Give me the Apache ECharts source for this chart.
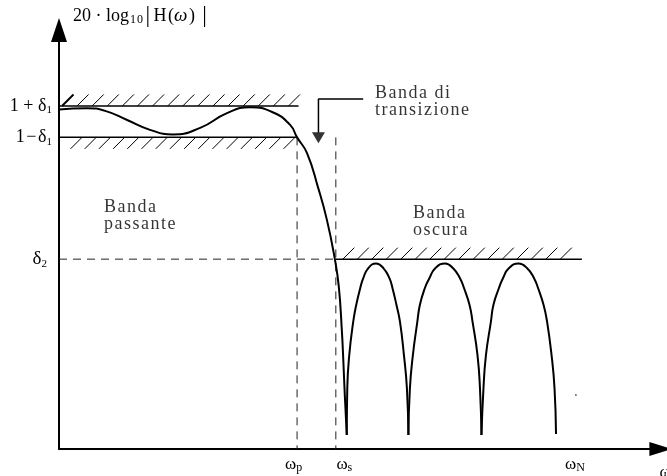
<!DOCTYPE html>
<html>
<head>
<meta charset="utf-8">
<script src="https://cdn.jsdelivr.net/npm/echarts@6/dist/echarts.min.js"></script>
<style>
  html, body { margin: 0; padding: 0; background: #fff; }
  #chart { width: 667px; height: 476px; }
</style>
</head>
<body>
<div id="chart"></div>
<script>
// Tolerance levels of the low-pass specification (normalized magnitude)
const delta1 = 0.048;
const delta2 = 0.58;

// Band edges on the normalized frequency axis
const omegaP = 0.479;
const omegaS = 0.557;
const omegaN = 1.038;

// Passband ripple followed by the transition band down to the first zero
const passbandCurve = [
  [0.000, 1.037], [0.028, 1.040], [0.056, 1.041], [0.093, 1.033], [0.137, 1.005],
  [0.183, 0.975], [0.229, 0.961], [0.284, 0.981], [0.338, 1.026], [0.384, 1.044],
  [0.431, 1.028], [0.465, 0.990], [0.479, 0.952], [0.499, 0.904], [0.521, 0.800],
  [0.539, 0.700], [0.555, 0.580], [0.563, 0.495], [0.569, 0.364], [0.572, 0.272],
  [0.575, 0.165], [0.579, 0.043]
];

// Stopband lobes between consecutive zeros
const lobe1 = [
  [0.579, 0.043], [0.580, 0.185], [0.584, 0.287], [0.592, 0.389], [0.598, 0.440],
  [0.606, 0.491], [0.612, 0.521], [0.622, 0.552], [0.638, 0.567], [0.653, 0.552],
  [0.665, 0.521], [0.671, 0.491], [0.679, 0.440], [0.686, 0.389], [0.694, 0.287],
  [0.700, 0.185], [0.703, 0.043]
];
const lobe2 = [
  [0.703, 0.043], [0.706, 0.185], [0.712, 0.287], [0.721, 0.389], [0.726, 0.440],
  [0.736, 0.491], [0.745, 0.521], [0.757, 0.552], [0.777, 0.567], [0.793, 0.552],
  [0.807, 0.521], [0.815, 0.491], [0.826, 0.440], [0.832, 0.389], [0.842, 0.287],
  [0.847, 0.185], [0.850, 0.043]
];
const lobe3 = [
  [0.850, 0.043], [0.854, 0.185], [0.859, 0.287], [0.869, 0.389], [0.874, 0.440],
  [0.885, 0.491], [0.893, 0.521], [0.905, 0.552], [0.925, 0.567], [0.942, 0.552],
  [0.956, 0.521], [0.964, 0.491], [0.975, 0.440], [0.982, 0.389], [0.991, 0.287],
  [0.997, 0.185], [1.000, 0.046]
];

// Forbidden-region limits: [from, to, level]
const specLimits = [
  [0, 0.482, 1 + delta1],
  [0, omegaP, 1 - delta1],
  [omegaS, 1.052, delta2]
];

// Dashed guides
const guideDelta2 = [[0, delta2], [omegaS, delta2]];
const guideOmegaP = [[omegaP, 1 - delta1], [omegaP, 0]];
const guideOmegaS = [[omegaS, 1 - delta1], [omegaS, 0]];

// Callout pointing at the transition band
const calloutPath = [[0.612, 1.069], [0.522, 1.069], [0.522, 0.966]];
const calloutTip = [[0.522, 0.951]];

// Band captions anchored in data space
const captions = [
  { name: 'Banda\npassante', value: [0.0905, 0.713] },
  { name: 'Banda\noscura', value: [0.712, 0.694] },
  { name: 'Banda di\ntransizione', value: [0.636, 1.062] }
];
const strayDot = [[1.040, 0.165]];

// ---- styling ----
const serif = '"Liberation Serif", "Times New Roman", serif';
const ink = '#000';
const HAIR = '\u200A';
const THIN = '\u2009';
const spaced = s => s.split('\n').map(l => Array.from(l).join(HAIR)).join('\n');

// Hatch parameters per limit line: side -1 = hatch above, +1 = hatch below;
// 'reach' is how far past the line end the last hatch top may go (px)
const hatchStyle = [
  { side: -1, start: 3, step: 15.1, len: 11.5, firstWidth: 2, reach: 5 },
  { side: 1, start: 11.5, step: 14.2, len: 11.5, firstWidth: 1, reach: 0 },
  { side: -1, start: 7, step: 14.5, len: 11.5, firstWidth: 1, reach: -9 }
];

const rich = {
  a: { fontFamily: serif, fontSize: 18, lineHeight: 20, color: ink },
  s: { fontFamily: serif, fontSize: 11, lineHeight: 5, verticalAlign: 'bottom', color: ink },
  t: { fontFamily: serif, fontSize: 12, lineHeight: 4, verticalAlign: 'bottom', color: ink },
  s2: { fontFamily: serif, fontSize: 11, lineHeight: 5, verticalAlign: 'bottom', color: ink, padding: [0, 5, 0, 0] },
  d: { fontFamily: serif, fontSize: 19, lineHeight: 20, color: ink },
  b: { fontFamily: serif, fontSize: 23, lineHeight: 20, color: ink },
  i: { fontFamily: serif, fontSize: 19, fontStyle: 'italic', lineHeight: 20, color: ink },
  w: { fontFamily: serif, fontSize: 17, lineHeight: 18, color: ink },
  wsub: { fontFamily: serif, fontSize: 12, lineHeight: 6, verticalAlign: 'bottom', color: ink },
  wsubP: { fontFamily: serif, fontSize: 12, lineHeight: 6, verticalAlign: 'bottom', color: ink, padding: [0, 7, 0, 0] },
  wS: { fontFamily: serif, fontSize: 17, lineHeight: 18, color: ink, padding: [0, 0, 0, 17] }
};

const near = (a, b) => Math.abs(a - b) < 1e-6;

function yLabel(v) {
  if (near(v, 1 + delta1)) return '{a|1 + δ}{s|1}';
  if (near(v, 1 - delta1)) return '{a|' + spaced('1−δ') + '}{s|1}';
  if (near(v, delta2)) return '{d|δ}{s2|2}';
  return '';
}
function xLabel(v) {
  if (near(v, omegaP)) return '{w|ω}{wsubP|p}';
  if (near(v, omegaS)) return '{wS|ω}{wsub|s}';
  if (near(v, omegaN)) return '{w|ω}{wsub|N}';
  return '';
}

function renderHatch(params, api) {
  const hs = hatchStyle[params.dataIndex];
  const p0 = api.coord([api.value(0), api.value(2)]);
  const p1 = api.coord([api.value(1), api.value(2)]);
  const children = [{
    type: 'line',
    shape: { x1: p0[0], y1: p0[1], x2: p1[0], y2: p1[1] },
    style: { stroke: ink, lineWidth: 1.5 }
  }];
  let k = 0;
  for (let x = p0[0] + hs.start; x + hs.len <= p1[0] + hs.reach; x += hs.step, k++) {
    const yBottom = hs.side < 0 ? p0[1] : p0[1] + hs.len;
    children.push({
      type: 'line',
      shape: { x1: x, y1: yBottom, x2: x + hs.len, y2: yBottom - hs.len },
      style: { stroke: ink, lineWidth: k === 0 ? hs.firstWidth : 1 }
    });
  }
  return { type: 'group', children };
}

const curveSeries = data => ({
  type: 'line', data, smooth: 0.5, symbol: 'none', silent: true,
  lineStyle: { color: ink, width: 2 }, z: 5
});
const dashSeries = data => ({
  type: 'line', data, symbol: 'none', silent: true,
  lineStyle: { color: '#222', width: 1, type: [8, 6] }, z: 3
});

const axisTitle = '{a|20 · log}{t|' + HAIR + '1' + HAIR + '0' + THIN + '}{b||}' +
  '{a|' + THIN + 'H' + HAIR + '(}{i|ω}{a|' + HAIR + ')' + THIN + THIN + '}{b||}';

const chart = echarts.init(document.getElementById('chart'), null, { renderer: 'canvas' });
chart.setOption({
  animation: false,
  backgroundColor: '#fff',
  grid: { left: 59, right: 6.6, top: 30, bottom: 27, containLabel: false, outerBoundsMode: 'none' },
  xAxis: {
    type: 'value', min: 0, max: 1.21,
    name: 'ω', nameLocation: 'end', nameGap: -1,
    nameTextStyle: { fontFamily: serif, fontSize: 17, color: ink, align: 'left', verticalAlign: 'top', padding: [15, 0, 0, 0] },
    axisLine: { show: true, symbol: ['none', 'triangle'], symbolSize: [14, 22], lineStyle: { color: ink, width: 2 } },
    axisTick: { show: false },
    splitLine: { show: false },
    axisLabel: { customValues: [omegaP, omegaS, omegaN], formatter: xLabel, margin: 7, rich }
  },
  yAxis: {
    type: 'value', min: 0, max: 1.28,
    name: axisTitle,
    nameLocation: 'end', nameGap: 4,
    nameTextStyle: { align: 'left', verticalAlign: 'bottom', padding: [0, 0, 0, 14], rich },
    axisLine: { show: true, symbol: ['none', 'triangle'], symbolSize: [16, 24], lineStyle: { color: ink, width: 2 } },
    axisTick: { show: false },
    splitLine: { show: false },
    axisLabel: { customValues: [delta2, 1 - delta1, 1 + delta1], formatter: yLabel, margin: 7, rich }
  },
  series: [
    { type: 'custom', renderItem: renderHatch, data: specLimits, encode: { x: [0, 1], y: 2 }, clip: false, silent: true, z: 4 },
    dashSeries(guideDelta2),
    dashSeries(guideOmegaP),
    dashSeries(guideOmegaS),
    curveSeries(passbandCurve),
    curveSeries(lobe1),
    curveSeries(lobe2),
    curveSeries(lobe3),
    { type: 'line', data: calloutPath, symbol: 'none', silent: true, lineStyle: { color: ink, width: 1.5 }, z: 5 },
    { type: 'scatter', data: calloutTip, symbol: 'triangle', symbolRotate: 180, symbolSize: [13, 11], itemStyle: { color: ink }, silent: true, z: 5 },
    { type: 'scatter', data: strayDot, symbolSize: 2, itemStyle: { color: '#444' }, silent: true },
    {
      type: 'scatter', data: captions, symbolSize: 0, silent: true,
      label: {
        show: true, position: 'right', distance: 0, align: 'left',
        formatter: p => spaced(p.name),
        fontFamily: serif, fontSize: 18, lineHeight: 17, color: ink
      }
    }
  ]
});
</script>
</body>
</html>
